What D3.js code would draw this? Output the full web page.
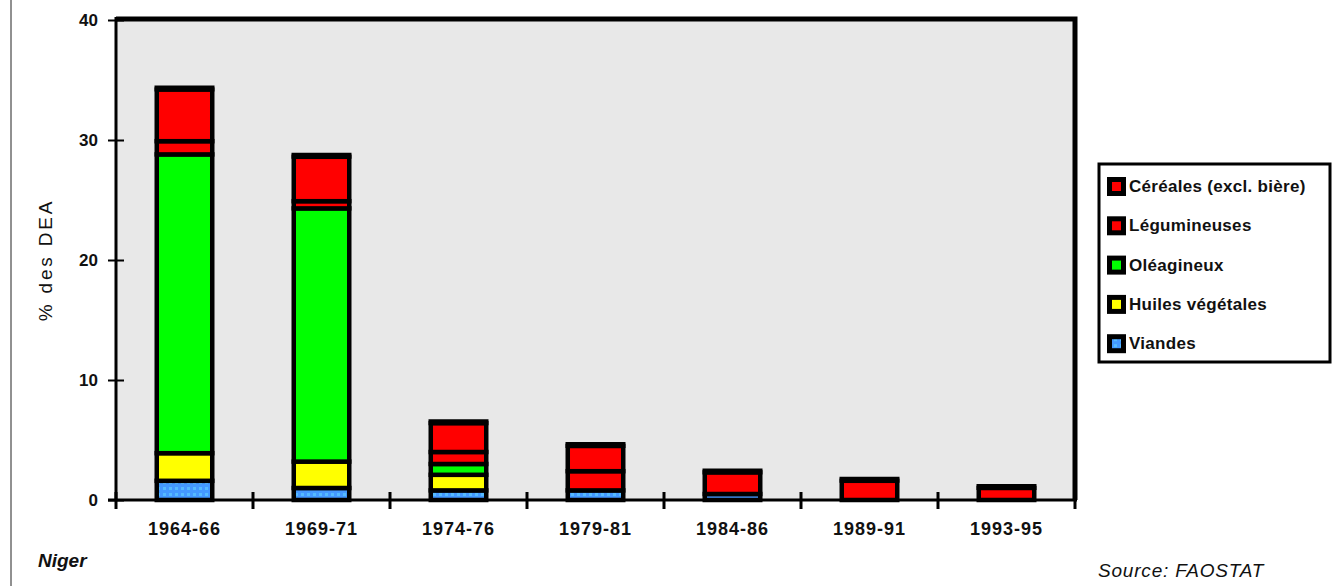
<!DOCTYPE html>
<html>
<head>
<meta charset="utf-8">
<script src="https://cdn.jsdelivr.net/npm/d3@7"></script>
<style>
  body { margin: 0; background: #fff; }
  svg { display: block; }
</style>
</head>
<body>
<div id="chart"></div>
<script>
// periodes (moyennes triennales)
var categories = ["1964-66", "1969-71", "1974-76", "1979-81", "1984-86", "1989-91", "1993-95"];

// % des DEA, par groupe de produits
var viandes      = [1.6, 1.0, 0.8, 0.8, 0.5, 0, 0];
var huiles       = [2.3, 2.2, 1.3, 0, 0, 0, 0];
var oleagineux   = [24.9, 21.1, 0.9, 0, 0, 0, 0];
var legumineuses = [1.1, 0.6, 1.0, 1.6, 1.8, 1.6, 1.0];
var cereales     = [4.3, 3.7, 2.4, 2.1, 0, 0, 0];

var seriesNames = ["Viandes", "Huiles végétales", "Oléagineux", "Légumineuses", "Céréales (excl. bière)"];
var yTicks = [0, 10, 20, 30, 40];

var W = 1342, H = 586;
var colors = {
    "Viandes": "url(#viandePat)",
    "Huiles végétales": "#ffff00",
    "Oléagineux": "#00ff00",
    "Légumineuses": "#ff0000",
    "Céréales (excl. bière)": "#ff0000"
};

var rows = categories.map(function(c, i) {
    return {
        cat: c,
        "Viandes": viandes[i],
        "Huiles végétales": huiles[i],
        "Oléagineux": oleagineux[i],
        "Légumineuses": legumineuses[i],
        "Céréales (excl. bière)": cereales[i]
    };
});

var svg = d3.select('#chart').append('svg')
    .attr('width', W)
    .attr('height', H);

// motif pointille pour les viandes
var pat = svg.append('defs').append('pattern')
    .attr('id', 'viandePat')
    .attr('patternUnits', 'userSpaceOnUse')
    .attr('width', 6)
    .attr('height', 6);
pat.append('rect').attr('width', 6).attr('height', 6).style('fill', '#4499ff');
pat.append('rect').attr('x', 1).attr('y', 1).attr('width', 3).attr('height', 3).style('fill', '#55bbff');

var x = d3.scaleBand()
    .domain(categories)
    .range([116, 1075])
    .paddingInner(0.595)
    .paddingOuter(0.2975);

var y = d3.scaleLinear()
    .domain([0, 40])
    .range([500, 20]);

// page border on the left
svg.append('line')
    .attr('x1', 11).attr('x2', 11)
    .attr('y1', 0).attr('y2', H)
    .style('stroke', '#222')
    .style('stroke-width', 1);

// plot background
svg.append('rect')
    .attr('x', 116)
    .attr('y', y(40))
    .attr('width', 1075 - 116)
    .attr('height', y(0) - y(40))
    .style('fill', '#e8e8e8');

// top + right frame (thick)
svg.append('path')
    .attr('d', 'M116,' + (y(40) - 1) + 'H1075V' + y(0))
    .style('fill', 'none')
    .style('stroke', '#000')
    .style('stroke-width', 5);

// bars
var stack = d3.stack().keys(seriesNames)(rows);

var layer = svg.append('g').selectAll('g')
    .data(stack)
    .enter()
    .append('g')
    .style('fill', function(d) { return colors[d.key]; });

layer.selectAll('rect')
    .data(function(d) { return d.filter(function(s) { return s[1] - s[0] > 0; }); })
    .enter()
    .append('rect')
    .attr('x', function(d) { return x(d.data.cat); })
    .attr('y', function(d) { return y(d[1]); })
    .attr('width', x.bandwidth())
    .attr('height', function(d) { return y(d[0]) - y(d[1]); })
    .style('stroke', '#000')
    .style('stroke-width', 4.5);

// heavier top edge on each bar
svg.append('g').selectAll('line')
    .data(rows)
    .enter()
    .append('line')
    .attr('x1', function(d) { return x(d.cat) - 2.25; })
    .attr('x2', function(d) { return x(d.cat) + x.bandwidth() + 2.25; })
    .attr('y1', function(d) { return y(d3.sum(seriesNames, function(k) { return d[k]; })) - 1; })
    .attr('y2', function(d) { return y(d3.sum(seriesNames, function(k) { return d[k]; })) - 1; })
    .style('stroke', '#000')
    .style('stroke-width', 6);

// y axis
var yAxis = d3.axisLeft(y)
    .tickValues(yTicks)
    .tickSize(0)
    .tickPadding(18);

var gy = svg.append('g')
    .attr('transform', 'translate(116,0)')
    .call(yAxis);
gy.select('.domain').remove();
gy.selectAll('.tick').append('line')
    .attr('x1', -8).attr('x2', 8)
    .style('stroke', '#000')
    .style('stroke-width', 2);
gy.selectAll('text')
    .style('font-family', '"Liberation Sans Narrow", "Liberation Sans", Arial, sans-serif')
    .style('font-size', '17px')
    .style('font-weight', 'bold')
    .style('fill', '#111');

svg.append('line')
    .attr('x1', 116).attr('x2', 116)
    .attr('y1', y(40) - 3).attr('y2', y(0))
    .style('stroke', '#000')
    .style('stroke-width', 3);

// x axis
var xAxis = d3.axisBottom(x).tickSize(0).tickPadding(22);
var gx = svg.append('g')
    .attr('transform', 'translate(0,' + y(0) + ')')
    .call(xAxis);
gx.select('.domain').remove();
gx.selectAll('text')
    .style('font-family', '"Liberation Sans Narrow", "Liberation Sans", Arial, sans-serif')
    .style('font-size', '18px')
    .style('font-weight', 'bold')
    .style('letter-spacing', '1px')
    .style('fill', '#111');

var bounds = categories.map(function(c) { return x(c) - x.step() * x.paddingInner() / 2; });
bounds.push(1075);
gx.selectAll('.sep')
    .data(bounds)
    .enter()
    .append('line')
    .attr('x1', function(d) { return d; })
    .attr('x2', function(d) { return d; })
    .attr('y1', -8).attr('y2', 9)
    .style('stroke', '#000')
    .style('stroke-width', 3);

svg.append('line')
    .attr('x1', 108).attr('x2', 1077)
    .attr('y1', y(0)).attr('y2', y(0))
    .style('stroke', '#000')
    .style('stroke-width', 3);

// y title
svg.append('text')
    .attr('transform', 'translate(52,' + y(20) + ') rotate(-90)')
    .attr('text-anchor', 'middle')
    .style('font-family', '"Liberation Sans", Arial, sans-serif')
    .style('font-size', '19px')
    .style('letter-spacing', '2.8px')
    .style('fill', '#111')
    .text('% des DEA');

// legend
var lg = svg.append('g').attr('transform', 'translate(1099,164)');
lg.append('rect')
    .attr('width', 231)
    .attr('height', 198)
    .style('fill', '#fff')
    .style('stroke', '#000')
    .style('stroke-width', 3);

var legendOrder = seriesNames.slice().reverse();
var item = lg.selectAll('.item')
    .data(legendOrder)
    .enter()
    .append('g')
    .attr('transform', function(d, i) { return 'translate(8,' + (22 + i * 39.3) + ')'; });

item.append('rect')
    .attr('x', 0).attr('y', -9)
    .attr('width', 19).attr('height', 19)
    .style('fill', '#000');
item.append('rect')
    .attr('x', 5).attr('y', -4)
    .attr('width', 9).attr('height', 9)
    .style('fill', function(d) { return colors[d]; });
item.append('text')
    .attr('x', 22)
    .attr('dy', '0.35em')
    .style('font-family', '"Liberation Sans", Arial, sans-serif')
    .style('font-size', '17px')
    .style('font-weight', 'bold')
    .style('letter-spacing', '0.3px')
    .style('fill', '#111')
    .text(function(d) { return d; });

// notes
svg.append('text')
    .attr('x', 38).attr('y', 567)
    .style('font-family', '"Liberation Sans", Arial, sans-serif')
    .style('font-size', '19px')
    .style('font-style', 'italic')
    .style('font-weight', 'bold')
    .style('fill', '#111')
    .text('Niger');

svg.append('text')
    .attr('x', 1098).attr('y', 577)
    .style('font-family', '"Liberation Sans", Arial, sans-serif')
    .style('font-size', '19px')
    .style('font-style', 'italic')
    .style('letter-spacing', '0.8px')
    .style('fill', '#111')
    .text('Source: FAOSTAT');
</script>
</body>
</html>
